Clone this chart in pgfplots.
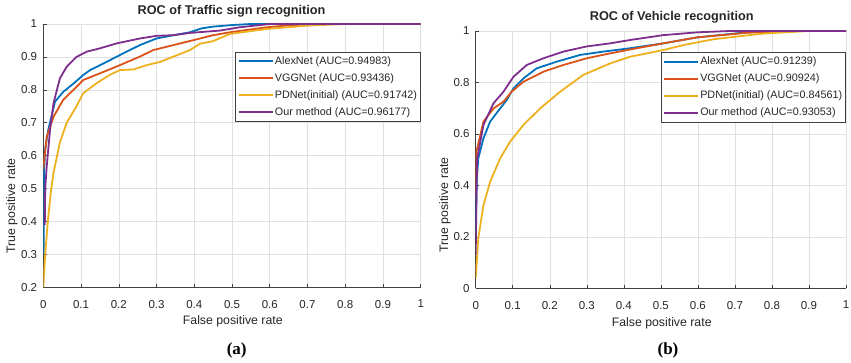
\documentclass[border=0pt]{standalone}
\usepackage{fontspec}
\setmainfont{Liberation Sans}
\newfontfamily\serifb{Liberation Serif}
\usepackage{pgfplots}
\pgfplotsset{compat=1.18}
\definecolor{mblue}{rgb}{0,0.447,0.741}
\definecolor{morange}{rgb}{0.850,0.325,0.098}
\definecolor{myellow}{rgb}{0.929,0.694,0.125}
\definecolor{mpurple}{rgb}{0.494,0.184,0.556}
\definecolor{gridc}{gray}{0.88}
\definecolor{axc}{gray}{0.25}
\pgfplotsset{
  roc/.style={
    scale only axis,
    axis lines*=left,
    axis line style={axc, line width=0.6pt},
    xmin=0, xmax=1,
    grid=major,
    major grid style={gridc, line width=0.5pt},
    tick align=inside,
    major tick length=3.5pt,
    tick style={axc, line width=0.5pt},
    /pgf/number format/assume math mode=true,
    ticklabel style={font=\fontsize{11.5}{13}\selectfont, text=black!85},
    xtick={0,0.1,...,1.01},
    xticklabels={0,0.1,0.2,0.3,0.4,0.5,0.6,0.7,0.8,0.9,1},
    xticklabel style={inner sep=0pt, anchor=north, yshift=-12.5pt},
    yticklabel style={inner sep=0pt, anchor=east, xshift=-6pt},
    legend cell align=left,
    legend style={draw=black!75, line width=0.6pt, fill=white,
      font=\fontsize{10.8}{12}\selectfont, text=black!85,
      inner xsep=2pt, inner ysep=2.5pt, row sep=3.8pt,
      nodes={inner sep=1.5pt, text height=8pt, text depth=2.2pt}},
    every axis plot/.append style={line width=1.8pt, line join=round},
  }
}
\begin{document}
\begin{tikzpicture}[x=1pt,y=1pt]
\useasboundingbox (0,0) rectangle (851,363);
% ---------- (a) ----------
\begin{axis}[roc,
  at={(43.3pt,75.7pt)}, anchor=south west,
  width=377.4pt, height=263.3pt,
  ymin=0.2, ymax=1,
  ytick={0.2,0.3,0.4,0.5,0.6,0.7,0.8,0.9,1},
  yticklabels={0.2,0.3,0.4,0.5,0.6,0.7,0.8,0.9,1},
  legend image code/.code={\draw[#1, line width=1.8pt] (0pt,0pt) -- (34pt,0pt);},
  legend style={at={(1,0.894)}, anchor=north east},
]
\addplot[mblue] coordinates {(0.001,0.30) (0.002,0.55) (0.005,0.62) (0.013,0.678) (0.031,0.764) (0.053,0.794) (0.08,0.819) (0.106,0.845) (0.124,0.86) (0.168,0.885) (0.212,0.911) (0.256,0.936) (0.3,0.956) (0.345,0.966) (0.389,0.975) (0.42,0.987) (0.45,0.992) (0.503,0.997) (0.55,1) (1,1)};
\addlegendentry{AlexNet (AUC=0.94983)}
\addplot[morange] coordinates {(0,0.56) (0.009,0.657) (0.027,0.718) (0.053,0.77) (0.08,0.8) (0.106,0.83) (0.15,0.85) (0.203,0.875) (0.256,0.901) (0.292,0.921) (0.345,0.936) (0.398,0.951) (0.45,0.966) (0.495,0.975) (0.592,0.99) (0.65,0.996) (0.724,1) (1,1)};
\addlegendentry{VGGNet (AUC=0.93436)}
\addplot[myellow] coordinates {(0,0.2) (0.005,0.3) (0.012,0.4) (0.02,0.49) (0.027,0.548) (0.044,0.64) (0.062,0.7) (0.088,0.75) (0.106,0.79) (0.141,0.82) (0.177,0.846) (0.203,0.86) (0.239,0.862) (0.274,0.875) (0.31,0.885) (0.345,0.901) (0.389,0.921) (0.415,0.94) (0.45,0.948) (0.495,0.97) (0.592,0.985) (0.7,0.995) (0.8,1) (1,1)};
\addlegendentry{PDNet(initial) (AUC=0.91742)}
\addplot[mpurple] coordinates {(0.004,0.39) (0.005,0.5) (0.009,0.566) (0.018,0.68) (0.027,0.759) (0.044,0.835) (0.062,0.87) (0.088,0.9) (0.115,0.916) (0.15,0.926) (0.194,0.941) (0.256,0.956) (0.3,0.964) (0.345,0.966) (0.389,0.973) (0.468,0.98) (0.52,0.99) (0.6,1) (1,1)};
\addlegendentry{Our method (AUC=0.96177)}
\end{axis}
% ---------- (b) ----------
\begin{axis}[roc,
  at={(475.7pt,74.7pt)}, anchor=south west,
  width=370.3pt, height=257.3pt,
  ymin=0, ymax=1,
  ytick={0,0.2,0.4,0.6,0.8,1},
  yticklabels={0,0.2,0.4,0.6,0.8,1},
  legend image code/.code={\draw[#1, line width=1.8pt] (0pt,0pt) -- (34pt,0pt);},
  legend style={at={(1,0.917)}, anchor=north east},
]
\addplot[mblue] coordinates {(0,0.22) (0.003,0.42) (0.007,0.505) (0.021,0.583) (0.039,0.648) (0.066,0.699) (0.084,0.732) (0.102,0.777) (0.129,0.816) (0.165,0.855) (0.219,0.881) (0.282,0.907) (0.345,0.92) (0.417,0.933) (0.507,0.952) (0.597,0.975) (0.732,0.995) (0.82,1) (1,1)};
\addlegendentry{AlexNet (AUC=0.91239)}
\addplot[morange] coordinates {(0,0.363) (0.002,0.531) (0.021,0.648) (0.048,0.699) (0.075,0.725) (0.097,0.764) (0.129,0.803) (0.183,0.842) (0.237,0.868) (0.3,0.894) (0.363,0.913) (0.435,0.933) (0.507,0.952) (0.597,0.975) (0.732,0.993) (0.85,1) (1,1)};
\addlegendentry{VGGNet (AUC=0.90924)}
\addplot[myellow] coordinates {(0,0.04) (0.007,0.194) (0.021,0.324) (0.039,0.414) (0.066,0.505) (0.093,0.57) (0.129,0.635) (0.174,0.699) (0.228,0.764) (0.29,0.829) (0.363,0.874) (0.417,0.9) (0.507,0.926) (0.56,0.945) (0.642,0.968) (0.777,0.99) (0.9,1) (1,1)};
\addlegendentry{PDNet(initial) (AUC=0.84561)}
\addplot[mpurple] coordinates {(0,0.13) (0.002,0.35) (0.004,0.505) (0.021,0.635) (0.048,0.719) (0.075,0.764) (0.102,0.822) (0.138,0.868) (0.183,0.894) (0.237,0.92) (0.3,0.94) (0.363,0.952) (0.417,0.965) (0.507,0.984) (0.6,0.995) (0.687,1) (1,1)};
\addlegendentry{Our method (AUC=0.93053)}
\end{axis}
% ---------- texts ----------
\node[font=\fontsize{12.7}{15}\selectfont\bfseries, text=black!85] at (231.5,352) {ROC of Traffic sign recognition};
\node[font=\fontsize{12.7}{15}\selectfont\bfseries, text=black!85] at (671.7,345.5) {ROC of Vehicle recognition};
\node[font=\fontsize{12.3}{14}\selectfont, text=black!85] at (232.8,41.3) {False positive rate};
\node[font=\fontsize{12.3}{14}\selectfont, text=black!85] at (661.7,39.7) {False positive rate};
\node[font=\fontsize{12.3}{14}\selectfont, text=black!85, rotate=90] at (12,157) {True positive rate};
\node[font=\fontsize{12.3}{14}\selectfont, text=black!85, rotate=90] at (445,158) {True positive rate};
\node[font=\fontsize{17}{19}\selectfont\serifb\bfseries] at (236.7,13) {(a)};
\node[font=\fontsize{17}{19}\selectfont\serifb\bfseries] at (668,13) {(b)};
\end{tikzpicture}
\end{document}
